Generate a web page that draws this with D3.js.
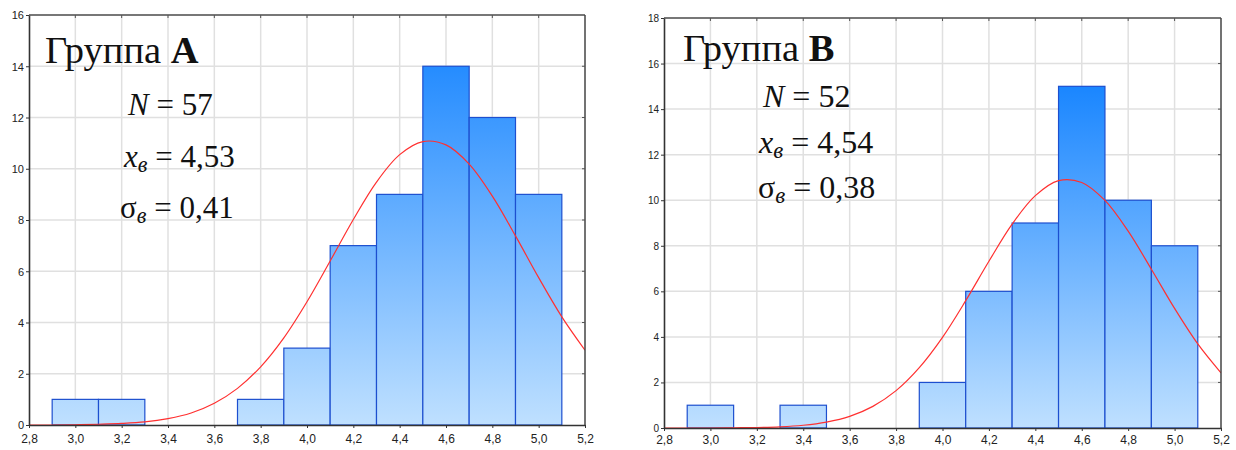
<!DOCTYPE html>
<html><head><meta charset="utf-8">
<script src="https://cdn.jsdelivr.net/npm/d3@7"></script>
<style>body{margin:0;background:#fff}svg{display:block}</style>
</head><body>
<svg id="c" width="1236" height="450"></svg>
<script>
// ---- data ----
const binWidth = 0.2;
const aBinStart = [2.9, 3.1, 3.7, 3.9, 4.1, 4.3, 4.5, 4.7, 4.9];
const aCounts   = [1, 1, 1, 3, 7, 9, 14, 12, 9];
const bBinStart = [2.9, 3.3, 3.9, 4.1, 4.3, 4.5, 4.7, 4.9];
const bCounts   = [1, 1, 2, 6, 9, 15, 10, 8];
const curveX  = [2.8,2.9,3.0,3.1,3.2,3.3,3.4,3.5,3.6,3.7,3.8,3.9,4.0,4.1,4.2,4.3,4.4,4.5,4.6,4.7,4.8,4.9,5.0,5.1,5.2];
const aCurveY = [0,0,0.01,0.03,0.06,0.12,0.25,0.47,0.85,1.43,2.27,3.40,4.81,6.40,8.02,9.48,10.55,11.06,10.93,10.18,8.93,7.38,5.75,4.22,2.92];
const bCurveY = [0,0,0,0.01,0.02,0.05,0.12,0.26,0.51,0.95,1.64,2.65,3.98,5.59,7.32,8.95,10.20,10.86,10.78,9.99,8.64,6.97,5.25,3.69,2.42];
const xTicks = [2.8,3.0,3.2,3.4,3.6,3.8,4.0,4.2,4.4,4.6,4.8,5.0,5.2];
const xTickLabels = ["2,8","3,0","3,2","3,4","3,6","3,8","4,0","4,2","4,4","4,6","4,8","5,0","5,2"];
const aYTicks = [0,2,4,6,8,10,12,14,16];
const bYTicks = [0,2,4,6,8,10,12,14,16,18];
const aTitle = ["Группа ", "A"], bTitle = ["Группа ", "B"];
const aStats = {N:"57", mean:"4,53", sd:"0,41"};
const bStats = {N:"52", mean:"4,54", sd:"0,38"};

const svg = d3.select("#c");
const defs = svg.append("defs");

function panel(id, box, binStart, counts, curveY, yTicks, yMax, title, stats, txt, yFont, xOff, statSize){
  const x = d3.scaleLinear().domain([2.8,5.2]).range([box.l, box.r]);
  const y = d3.scaleLinear().domain([0,yMax]).range([box.b, box.t]);
  const g = svg.append("g");

  const grad = defs.append("linearGradient").attr("id","grad"+id)
    .attr("gradientUnits","userSpaceOnUse")
    .attr("x1",0).attr("x2",0).attr("y1",y(16)).attr("y2",y(0));
  grad.append("stop").attr("offset","0%").attr("stop-color","#0f80ff");
  grad.append("stop").attr("offset","100%").attr("stop-color","#bfe0ff");

  defs.append("clipPath").attr("id","clip"+id).append("rect")
    .attr("x",box.l).attr("y",box.t).attr("width",box.r-box.l).attr("height",box.b-box.t);

  // grid
  g.append("g").selectAll("line").data(xTicks.slice(1,-1)).join("line")
    .attr("x1",d=>x(d)).attr("x2",d=>x(d)).attr("y1",box.t).attr("y2",box.b)
    .attr("stroke","#e0e0e0").attr("stroke-width",1.5);
  g.append("g").selectAll("line").data(yTicks.slice(1,-1)).join("line")
    .attr("y1",d=>y(d)).attr("y2",d=>y(d)).attr("x1",box.l).attr("x2",box.r)
    .attr("stroke","#e0e0e0").attr("stroke-width",1.5);

  // bars
  g.append("g").selectAll("rect").data(binStart).join("rect")
    .attr("x",(d)=>x(d)).attr("width",d=>x(d+binWidth)-x(d))
    .attr("y",(d,i)=>y(counts[i])).attr("height",(d,i)=>y(0)-y(counts[i]))
    .attr("fill","url(#grad"+id+")").attr("stroke","#1d4fcf").attr("stroke-width",1.2);

  // curve
  const line = d3.line().x((d,i)=>x(curveX[i])).y(d=>y(d)).curve(d3.curveCatmullRom);
  g.append("path").datum(curveY).attr("d",line).attr("fill","none")
    .attr("stroke","#ff3030").attr("stroke-width",1.2).attr("clip-path","url(#clip"+id+")");

  // frame top/right
  g.append("line").attr("x1",box.l).attr("x2",box.r).attr("y1",box.t).attr("y2",box.t).attr("stroke","#777").attr("stroke-width",2);
  g.append("line").attr("x1",box.r).attr("x2",box.r).attr("y1",box.t).attr("y2",box.b).attr("stroke","#444").attr("stroke-width",1.5);
  g.append("g").selectAll("line").data(xTicks.slice(1,-1)).join("line")
    .attr("x1",d=>x(d)).attr("x2",d=>x(d)).attr("y1",box.t).attr("y2",box.t+3).attr("stroke","#555");
  g.append("g").selectAll("line").data(yTicks.slice(1,-1)).join("line")
    .attr("y1",d=>y(d)).attr("y2",d=>y(d)).attr("x1",box.r-3).attr("x2",box.r).attr("stroke","#555");

  // axes
  const xa = g.append("g").attr("transform",`translate(0,${box.b})`)
    .call(d3.axisBottom(x).tickValues(xTicks).tickFormat((d,i)=>xTickLabels[i]).tickSize(3).tickSizeOuter(0));
  const ya = g.append("g").attr("transform",`translate(${box.l},0)`)
    .call(d3.axisLeft(y).tickValues(yTicks).tickFormat(d=>d).tickSize(3).tickSizeOuter(0));
  [xa,ya].forEach(a=>{
    a.select(".domain").attr("stroke","#333").attr("stroke-width",1.6);
    a.selectAll(".tick line").attr("stroke","#333");
    a.selectAll("text").attr("fill","#222").attr("font-family","Liberation Sans, Arial, sans-serif");
  });
  xa.selectAll("text").attr("font-size",12).attr("dy","0.71em").attr("y",xOff);
  ya.selectAll("text").attr("font-size",yFont).attr("dy","0.35em").attr("x",-5);

  // annotation text
  const serif = "Liberation Serif, Times New Roman, serif";
  const t1 = g.append("text").attr("x",txt.tx).attr("y",txt.ty).attr("font-family",serif).attr("font-size",38.5).attr("fill","#111");
  t1.append("tspan").text(title[0]);
  t1.append("tspan").attr("font-weight","bold").text(title[1]);

  const t2 = g.append("text").attr("x",txt.nx).attr("y",txt.ny).attr("font-family",serif).attr("font-size",statSize).attr("fill","#111");
  t2.append("tspan").attr("font-style","italic").text("N");
  t2.append("tspan").text(" = " + stats.N);

  const t3 = g.append("text").attr("x",txt.mx).attr("y",txt.my).attr("font-family",serif).attr("font-size",statSize).attr("fill","#111");
  t3.append("tspan").attr("font-style","italic").text("x");
  t3.append("tspan").attr("font-style","italic").attr("font-size",statSize*0.72).attr("dy",5).text("в");
  t3.append("tspan").attr("dy",-5).text(" = " + stats.mean);

  const t4 = g.append("text").attr("x",txt.sx).attr("y",txt.sy).attr("font-family",serif).attr("font-size",statSize).attr("fill","#111");
  t4.append("tspan").text("σ");
  t4.append("tspan").attr("font-style","italic").attr("font-size",statSize*0.72).attr("dy",5).text("в");
  t4.append("tspan").attr("dy",-5).text(" = " + stats.sd);
}

panel("A", {l:29, r:585, t:15, b:425}, aBinStart, aCounts, aCurveY, aYTicks, 16, aTitle, aStats,
  {tx:45, ty:63, nx:128, ny:115, mx:124, my:167, sx:120, sy:218}, 11, 9, 31);
panel("B", {l:664, r:1221, t:18, b:428}, bBinStart, bCounts, bCurveY, bYTicks, 18, bTitle, bStats,
  {tx:683, ty:61, nx:763, ny:107, mx:759, my:153, sx:758, sy:198}, 10, 7.5, 32);
</script>
</body></html>
